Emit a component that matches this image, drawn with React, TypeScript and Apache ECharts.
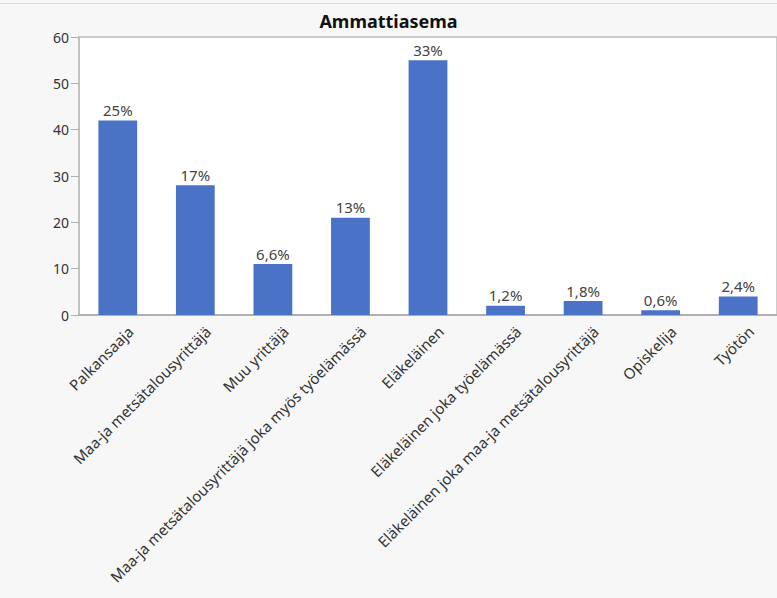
import React, { useEffect, useRef } from "react";
import * as echarts from "echarts";

const categories = [
  "Palkansaaja",
  "Maa-ja metsätalousyrittäjä",
  "Muu yrittäjä",
  "Maa-ja metsätalousyrittäjä joka myös työelämässä",
  "Eläkeläinen",
  "Eläkeläinen joka työelämässä",
  "Eläkeläinen joka maa-ja metsätalousyrittäjä",
  "Opiskelija",
  "Työtön",
];
const counts = [42, 28, 11, 21, 55, 2, 3, 1, 4];
const percentLabels = ["25%", "17%", "6,6%", "13%", "33%", "1,2%", "1,8%", "0,6%", "2,4%"];
const yTicks = { min: 0, max: 60, interval: 10 };

export default function App() {
  const ref = useRef<HTMLDivElement>(null);
  useEffect(() => {
    if (!ref.current) return;
    const chart = echarts.init(ref.current, null, { renderer: "svg" });
    const font = "'Noto Sans', 'Open Sans', sans-serif";
    chart.setOption({
      animation: false,
      backgroundColor: "#f7f7f7",
      textStyle: { fontFamily: font },
      title: {
        text: "Ammattiasema",
        left: "center",
        top: 7,
        textStyle: { fontSize: 18, fontWeight: "bold", color: "#111", fontFamily: font },
      },
      graphic: [
        {
          type: "line",
          shape: { x1: 0, y1: 3.5, x2: 777, y2: 3.5 },
          style: { stroke: "#dcdcdc", lineWidth: 1 },
        },
      ],
      grid: {
        left: 79,
        right: 0,
        top: 37,
        bottom: 283,
        show: true,
        backgroundColor: "#ffffff",
        borderColor: "#bdbdbd",
        borderWidth: 1.5,
      },
      xAxis: {
        type: "category",
        data: categories,
        axisLine: { show: true, lineStyle: { color: "#b0b0b0", width: 2 } },
        axisTick: { show: false },
        axisLabel: {
          interval: 0,
          rotate: 45,
          fontSize: 15,
          lineHeight: 16,
          color: "#333",
          margin: 1,
          align: "right",
          verticalAlign: "top",
          padding: [10, 0, 0, 0],
          fontFamily: font,
        },
      },
      yAxis: {
        type: "value",
        min: yTicks.min,
        max: yTicks.max,
        interval: yTicks.interval,
        splitLine: { show: false },
        axisLine: { show: true, lineStyle: { color: "#bdbdbd", width: 1.5 } },
        axisTick: { show: true, length: 8, lineStyle: { color: "#b0b0b0" } },
        axisLabel: { fontSize: 14, color: "#333", margin: 10, fontFamily: font },
      },
      series: [
        {
          type: "bar",
          data: counts,
          barWidth: "50%",
          itemStyle: { color: "#4a72c6" },
          label: {
            show: true,
            position: "top",
            fontSize: 15,
            color: "#444",
            distance: 3,
            fontFamily: font,
            formatter: (p: any) => percentLabels[p.dataIndex],
          },
        },
      ],
    });
    return () => chart.dispose();
  }, []);
  return (
    <div
      ref={ref}
      style={{ position: "absolute", left: 0, top: 0, width: 777, height: 598 }}
    />
  );
}
